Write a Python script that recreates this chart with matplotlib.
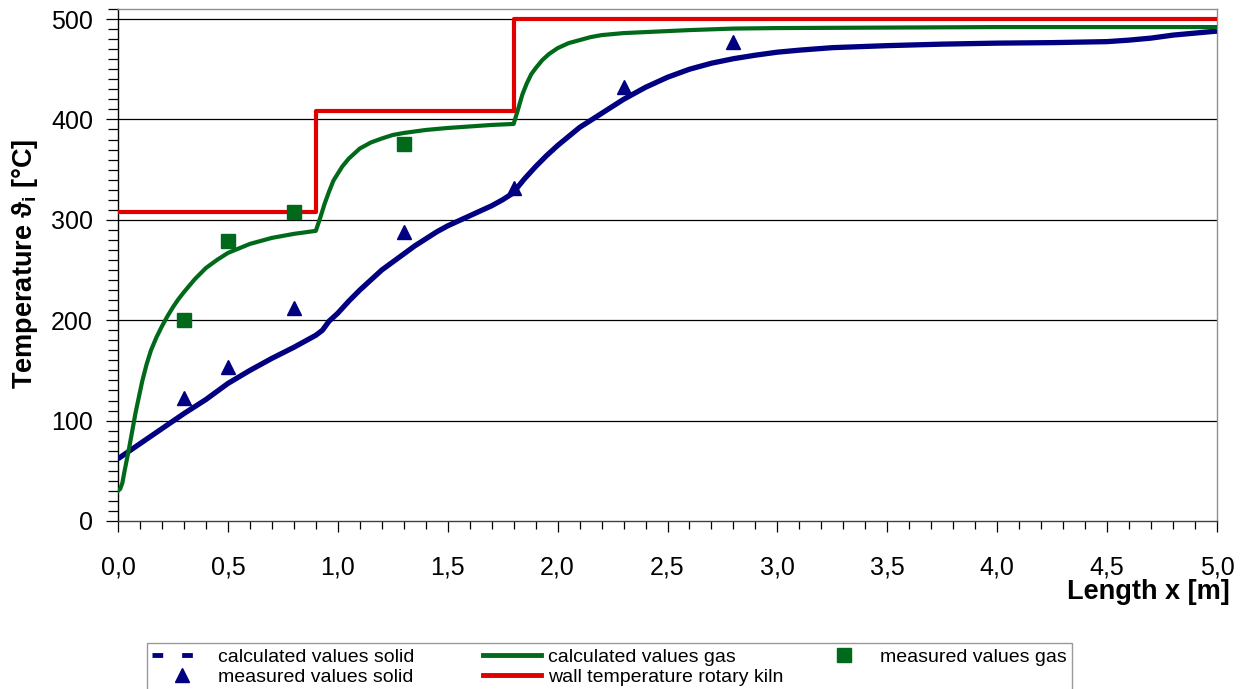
import matplotlib
matplotlib.use("Agg")
import matplotlib.pyplot as plt
from matplotlib.lines import Line2D
from matplotlib.ticker import MultipleLocator, FuncFormatter

# calculated solid temperature
solid_x = [0.0, 0.1, 0.2, 0.3, 0.4, 0.5, 0.6, 0.7, 0.8, 0.9, 0.93, 0.96, 1.0, 1.05,
           1.1, 1.15, 1.2, 1.25, 1.3, 1.35, 1.4, 1.45, 1.5, 1.55, 1.6, 1.65, 1.7,
           1.75, 1.8, 1.82, 1.85, 1.9, 1.95, 2.0, 2.05, 2.1, 2.15, 2.2, 2.25, 2.3,
           2.35, 2.4, 2.45, 2.5, 2.6, 2.7, 2.8, 2.9, 3.0, 3.1, 3.25, 3.5, 3.75, 4.0,
           4.25, 4.5, 4.6, 4.7, 4.8, 4.9, 5.0]
solid_y = [62, 77, 92, 107, 121, 137, 150, 162, 173, 185, 190, 199, 207, 219,
           230, 240, 250, 258, 266, 274, 281, 288, 294, 299, 304, 309, 314,
           320, 327, 333, 341, 353, 364, 374, 383, 392, 399, 406, 413, 420,
           426, 432, 437, 442, 450, 456, 460.5, 464, 467, 469, 471.5, 473.5, 475, 476,
           476.5, 477.5, 479, 481, 484, 486, 488]

# calculated gas temperature
gas_x = [0.0, 0.01, 0.02, 0.03, 0.05, 0.08, 0.11, 0.13, 0.15, 0.175, 0.2, 0.225, 0.25,
         0.275, 0.3, 0.35, 0.4, 0.45, 0.5, 0.6, 0.7, 0.8, 0.9, 0.92, 0.94, 0.96, 0.98,
         1.0, 1.02, 1.05, 1.1, 1.15, 1.2, 1.25, 1.3, 1.4, 1.5, 1.6, 1.7, 1.8, 1.82,
         1.84, 1.86, 1.88, 1.9, 1.93, 1.96, 2.0, 2.05, 2.1, 2.15, 2.2, 2.3, 2.4, 2.6,
         2.8, 3.0, 3.5, 4.0, 5.0]
gas_y = [30, 32, 38, 50, 72, 108, 139, 156, 170, 183, 194, 204, 213,
         221, 228, 241, 252, 260, 267, 276, 282, 286, 289, 302, 316, 328, 339,
         346, 353, 361, 371, 377, 381, 384.5, 386.5, 389.5, 391.5, 393, 394.5, 395.5, 410,
         425, 436, 445, 451, 459, 465, 471, 476, 479, 482, 484, 486, 487, 489,
         490.5, 491, 491.5, 492, 492]

# wall temperature of the rotary kiln (step profile)
wall_x = [0.0, 0.9, 0.9, 1.8, 1.8, 5.0]
wall_y = [308, 308, 408, 408, 500, 500]

# measurements
meas_gas_x = [0.3, 0.5, 0.8, 1.3]
meas_gas_y = [200, 279, 308, 376]
meas_solid_x = [0.3, 0.5, 0.8, 1.3, 1.8, 2.3, 2.8]
meas_solid_y = [123, 153, 212, 288, 332, 432, 477]

NAVY = "#000080"
GREEN = "#006a1a"
RED = "#e00000"

plt.rcParams["font.family"] = ["Liberation Sans", "DejaVu Sans"]

fig = plt.figure(figsize=(12.46, 6.89), dpi=100)
ax = fig.add_axes([118 / 1246, 1 - 521 / 689, (1217 - 118) / 1246, (521 - 9) / 689])

ax.plot(solid_x, solid_y, color=NAVY, lw=3.8, solid_capstyle="butt", zorder=3)
ax.plot(gas_x, gas_y, color=GREEN, lw=3.0, zorder=4)
ax.plot(wall_x, wall_y, color=RED, lw=3.0, zorder=4)
ax.plot(meas_gas_x, meas_gas_y, ls="none", marker="s", ms=9.5, color=GREEN, zorder=5)
ax.plot(meas_solid_x, meas_solid_y, ls="none", marker="^", ms=10, color=NAVY, zorder=5)

ax.set_xlim(0, 5)
ax.set_ylim(0, 510)
ax.xaxis.set_major_locator(MultipleLocator(0.5))
ax.xaxis.set_minor_locator(MultipleLocator(0.1))
ax.yaxis.set_major_locator(MultipleLocator(100))
ax.yaxis.set_minor_locator(MultipleLocator(10))
ax.xaxis.set_major_formatter(FuncFormatter(lambda v, p: f"{v:.1f}".replace(".", ",")))
ax.yaxis.set_major_formatter(FuncFormatter(lambda v, p: f"{v:.0f}"))

for y in [100, 200, 300, 400, 500]:
    ax.axhline(y, color="black", lw=0.9, zorder=1)

ax.tick_params(axis="both", which="both", direction="out", width=0.9, colors="black",
               labelsize=18)
ax.tick_params(axis="y", which="major", length=9, pad=9)
ax.tick_params(axis="y", which="minor", length=7)
ax.tick_params(axis="x", which="major", length=8, pad=17)
ax.tick_params(axis="x", which="minor", length=6)

ax.spines["left"].set_color("black")
ax.spines["bottom"].set_color("#404040")
ax.spines["top"].set_color("#909090")
ax.spines["right"].set_color("#909090")
for s in ax.spines.values():
    s.set_linewidth(1.0)

fig.text(1230 / 1246, 1 - 592 / 689, "Length x [m]", ha="right", va="center",
         fontsize=19.5, fontweight="bold")
fig.text(25 / 1246, 1 - 264 / 689, "Temperature ϑ$_\\mathregular{i}$ [°C]",
         rotation=90, ha="center", va="center", fontsize=19.5, fontweight="bold")

# legend, filled column-wise to reproduce the two-row layout
h_calc_solid = Line2D([], [], color=NAVY, lw=3.5, ls=(0, (2.2, 3.9)))
h_meas_solid = Line2D([], [], color=NAVY, ls="none", marker="^", ms=10)
h_calc_gas = Line2D([], [], color=GREEN, lw=3.5)
h_wall = Line2D([], [], color=RED, lw=3.5)
h_meas_gas = Line2D([], [], color=GREEN, ls="none", marker="s", ms=9.5)

handles = [h_calc_solid, h_meas_solid, h_calc_gas, h_wall, h_meas_gas]
labels = ["calculated values solid" + " " * 7, "measured values solid",
          "calculated values gas", "wall temperature rotary kiln",
          "measured values gas"]

leg = fig.legend(handles, labels, ncol=3, loc="upper left",
                 bbox_to_anchor=(147 / 1246, 1 - 643 / 689), borderaxespad=0,
                 fontsize=14, frameon=True, fancybox=False, edgecolor="#808080",
                 handlelength=3.0, handletextpad=0.36, columnspacing=1.6,
                 labelspacing=0.1, borderpad=0.28)
leg.get_frame().set_linewidth(1.0)

fig.savefig("out.png", dpi=100)
